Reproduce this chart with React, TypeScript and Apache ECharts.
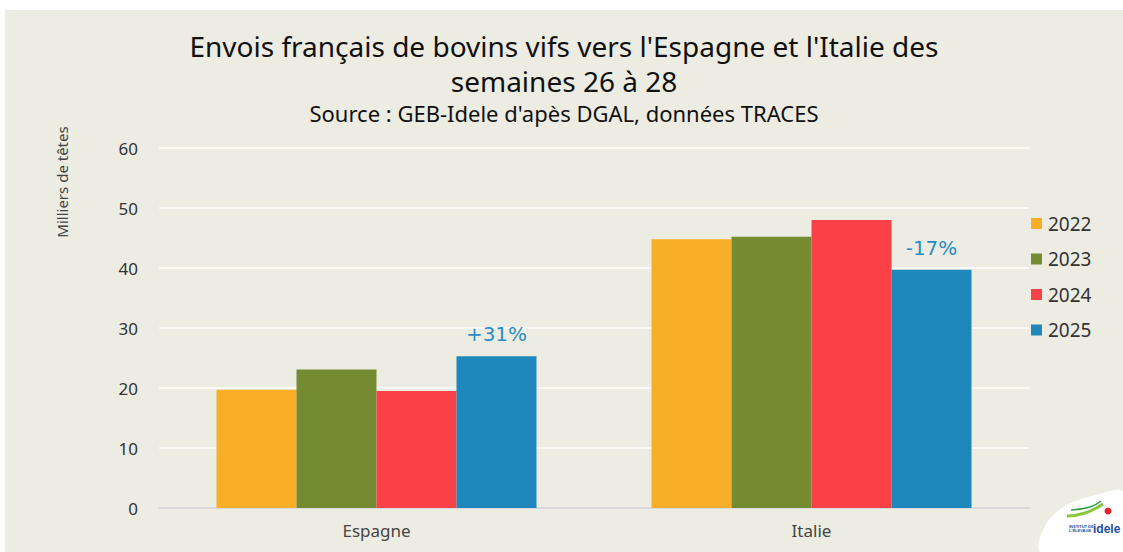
import React, { useEffect, useRef } from "react";
import * as echarts from "echarts";

const categories = ["Espagne", "Italie"];
const years = ["2022", "2023", "2024", "2025"];
const values2022 = [19.7, 44.8];
const values2023 = [23.1, 45.2];
const values2024 = [19.5, 48.0];
const values2025 = [25.3, 39.7];
const changeLabels = ["+31%", "-17%"];
const colors = ["#F9AE28", "#758B31", "#FB4148", "#1E88BC"];
const yTicks = [0, 10, 20, 30, 40, 50, 60];

const TEXT_FONT = "'Noto Sans', 'Open Sans', sans-serif";
const TITLE_FONT = "'Noto Sans', 'Open Sans', sans-serif";

export default function App() {
  const ref = useRef<HTMLDivElement>(null);
  useEffect(() => {
    if (!ref.current) return;
    const chart = echarts.init(ref.current, null, { renderer: "svg" });
    const allValues = [values2022, values2023, values2024, values2025];
    const series = years.map((y, i) => ({
      name: y,
      type: "bar",
      barWidth: 80,
      barGap: "0%",
      itemStyle: { color: colors[i] },
      data:
        i === 3
          ? allValues[i].map((v, j) => ({
              value: v,
              label: {
                show: true,
                position: "top",
                distance: 12,
                formatter: changeLabels[j],
                color: "#2A8CC4",
                fontSize: 20,
                fontFamily: "'DejaVu Sans', sans-serif",
              },
            }))
          : allValues[i],
    }));
    const titleStyle = {
      fontFamily: TITLE_FONT,
      fontSize: 28,
      fontWeight: "normal",
      color: "#111111",
    };
    chart.setOption({
      animation: false,
      backgroundColor: "#ECECE3",
      title: [
        {
          text: "Envois français de bovins vifs vers l'Espagne et l'Italie des",
          left: "center",
          top: 17,
          textStyle: titleStyle,
        },
        {
          text: "semaines 26 à 28",
          left: "center",
          top: 52,
          textStyle: titleStyle,
        },
        {
          text: "Source : GEB-Idele d'apès DGAL, données TRACES",
          left: "center",
          top: 87,
          textStyle: {
            fontFamily: TITLE_FONT,
            fontSize: 22,
            fontWeight: "normal",
            color: "#111111",
          },
        },
      ],
      legend: {
        orient: "vertical",
        left: 1021,
        top: 199,
        itemWidth: 11,
        itemHeight: 11,
        itemGap: 16.5,
        icon: "rect",
        data: years,
        textStyle: {
          fontFamily: TEXT_FONT,
          fontSize: 19,
          color: "#333333",
          lineHeight: 18,
          padding: [0, 0, 0, 1],
        },
      },
      grid: { left: 154, right: 94, top: 138, bottom: 44 },
      xAxis: {
        type: "category",
        data: categories,
        axisLine: { lineStyle: { color: "#D9D9D9", width: 2 } },
        axisTick: { show: false },
        axisLabel: {
          fontFamily: TEXT_FONT,
          fontSize: 17,
          color: "#444444",
          margin: 14,
        },
      },
      yAxis: {
        type: "value",
        min: yTicks[0],
        max: yTicks[yTicks.length - 1],
        interval: 10,
        axisLine: { show: false },
        axisTick: { show: false },
        splitLine: { lineStyle: { color: "#FFFFFF", width: 1.5 } },
        axisLabel: {
          fontFamily: TEXT_FONT,
          fontSize: 17,
          color: "#333333",
          margin: 21,
        },
      },
      graphic: [
        {
          type: "text",
          x: 57,
          y: 172,
          rotation: Math.PI / 2,
          style: {
            text: "Milliers de têtes",
            fill: "#444444",
            font: "15px 'Noto Sans', sans-serif",
            textAlign: "center",
            textVerticalAlign: "middle",
          },
        },
        {
          type: "polygon",
          shape: {
            points: [
              [1036, 542],
              [1040, 516],
              [1060, 496],
              [1095, 484],
              [1118, 482],
              [1118, 542],
            ],
            smooth: 0.35,
          },
          style: { fill: "#FFFFFF" },
        },
        {
          type: "polyline",
          shape: { points: [[1062, 506], [1080, 503], [1098, 494]], smooth: 0.5 },
          style: { stroke: "#8DC63F", lineWidth: 3, fill: "none" },
        },
        {
          type: "polyline",
          shape: { points: [[1066, 500], [1085, 497], [1096, 491]], smooth: 0.5 },
          style: { stroke: "#2E9A48", lineWidth: 1.5, fill: "none" },
        },
        {
          type: "circle",
          shape: { cx: 1103, cy: 501, r: 3.5 },
          style: { fill: "#E3232C" },
        },
        {
          type: "text",
          left: 1088,
          top: 513,
          style: {
            text: "idele",
            fill: "#1E4FA0",
            font: "bold 12px sans-serif",
          },
        },
        {
          type: "text",
          left: 1064,
          top: 514,
          style: {
            text: "INSTITUT DE\nL'ÉLEVAGE",
            fill: "#1E4FA0",
            font: "bold 4px sans-serif",
          },
        },
      ],
      series,
    });
    return () => chart.dispose();
  }, []);
  return (
    <div style={{ position: "fixed", left: 0, top: 0, width: 1123, height: 552, background: "#FFFFFF" }}>
      <div ref={ref} style={{ position: "absolute", left: 5, top: 10, width: 1118, height: 542 }} />
    </div>
  );
}
